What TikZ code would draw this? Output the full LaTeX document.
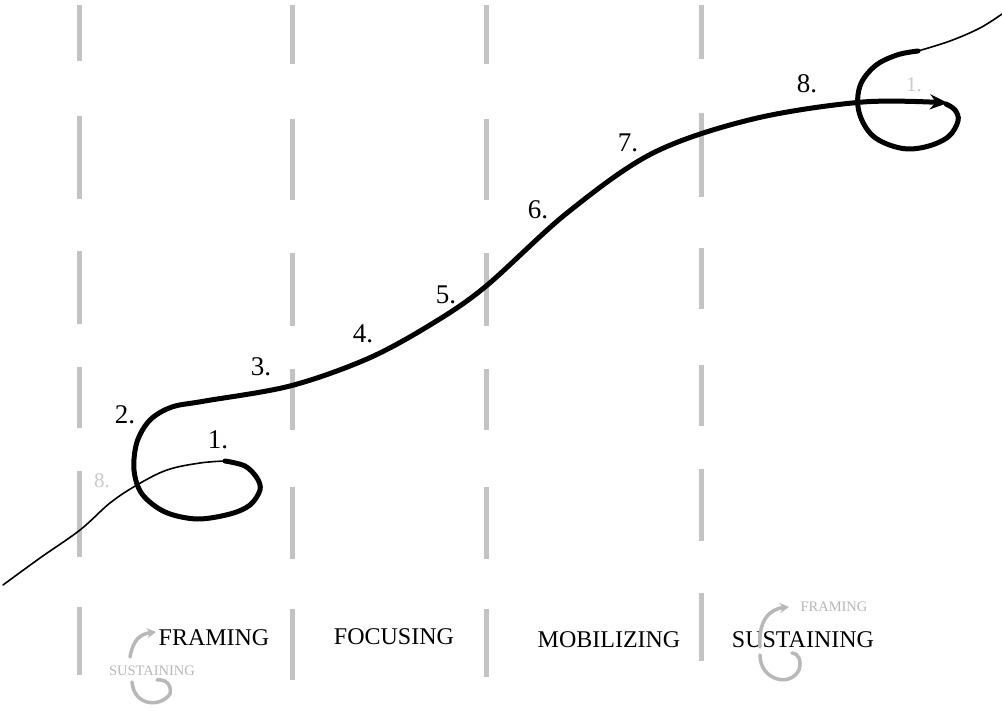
\documentclass[tikz,border=0pt]{standalone}
\usepackage{fontspec}
\setmainfont{Liberation Serif}
\usetikzlibrary{arrows.meta}
\definecolor{guide}{HTML}{C3C3C3}
\definecolor{faint}{HTML}{B8B8B8}
\definecolor{ghost}{HTML}{CACACA}
\tikzset{
  guideline/.style={guide, line width=5pt},
  thinpath/.style={black, line width=1.6pt, line cap=round},
  thickpath/.style={black, line width=5pt, line cap=round, line join=round},
  stagenum/.style={font=\fontsize{27}{30}\selectfont, inner sep=0pt},
  ghostnum/.style={ghost, font=\fontsize{21}{24}\selectfont, inner sep=0pt},
  phase/.style={font=\fontsize{24}{28}\selectfont, inner sep=0pt},
  subphase/.style={faint, font=\fontsize{14.5}{17}\selectfont, inner sep=0pt},
  hint/.style={faint, line width=3.5pt, line cap=round}
}
\begin{document}
\begin{tikzpicture}[x=1pt, y=-1pt]
\useasboundingbox[fill=white] (0,0) rectangle (1002,711);
% phase separators
\foreach \x/\segs in {79/{5/61,116/199,251/324,367/428,471/557,607/675},
                      292/{5/64,119/200,253/326,369/430,487/559,609/680},
                      486/{5/64,119/200,253/326,369/430,487/559,609/677},
                      701/{5/59,113/197,248/309,365/426,469/541,593/661}}
  \foreach \a/\b in \segs
    \draw[guideline] (\x,\a) -- (\x,\b);
% lead-in from the previous cycle
\draw[thinpath] plot[smooth, tension=0.6] coordinates {(3,585) (40,558) (80,530) (110,503) (137,485) (167,470) (200,463) (225,461)};
% main cycle
\draw[thickpath, -{Stealth[length=18pt, width=15pt]}] plot[smooth, tension=0.55] coordinates {(225,461) (245,466) (257,478) (260,490) (250,505) (230,514) (197,519) (165,512) (142,494) (134,470) (137,442) (150,420) (172,407) (205,401) (290,386) (367,359) (430,325) (485,287) (567,213) (653,153) (753,119) (863,102) (948,103)};
% loop into the next cycle
\draw[thickpath] plot[smooth, tension=0.6] coordinates {(946,104) (955,110) (958,121) (948,137) (925,147) (900,148) (873,136) (859,112) (860,86) (875,66) (897,55) (918,51)};
\draw[thinpath] plot[smooth, tension=0.6] coordinates {(918,51) (950,41) (980,28) (1002,14)};
% stage numbers
\node[stagenum] (n1) at (218,440) {1.};
\node[stagenum] (n2) at (125,415) {2.};
\node[stagenum] (n3) at (261,367) {3.};
\node[stagenum] (n4) at (363,334) {4.};
\node[stagenum] (n5) at (446,295) {5.};
\node[stagenum] (n6) at (538,210) {6.};
\node[stagenum] (n7) at (628,143) {7.};
\node[stagenum] (n8) at (807,84) {8.};
\node[ghostnum] (g8) at (102,481) {8.};
\node[ghostnum] (g1) at (914,85) {1.};
% phase names
\node[phase] (framing) at (214,638) {FRAMING};
\node[phase] (focusing) at (394,637) {FOCUSING};
\node[phase] (mobilizing) at (609,640) {MOBILIZING};
\node[phase] (sustaining) at (803,640) {SUSTAINING};
\node[subphase] (sustainprev) at (152,671) {SUSTAINING};
\node[subphase] (framenext) at (834,607) {FRAMING};
% return hints
\draw[hint, -{Stealth[length=9pt, width=10pt]}] (130,657) .. controls (133,640) and (140,634) .. (156,632);
\draw[hint] (132,682) .. controls (134,706) and (160,708) .. (170,694) .. controls (172,684) and (165,679) .. (157,680);
\draw[hint, -{Stealth[length=9pt, width=10pt]}] (760,647) .. controls (758,620) and (770,609) .. (789,607);
\draw[hint] (760,655) .. controls (760,680) and (790,688) .. (799,670) .. controls (802,660) and (798,653) .. (792,653);
\end{tikzpicture}
\end{document}
